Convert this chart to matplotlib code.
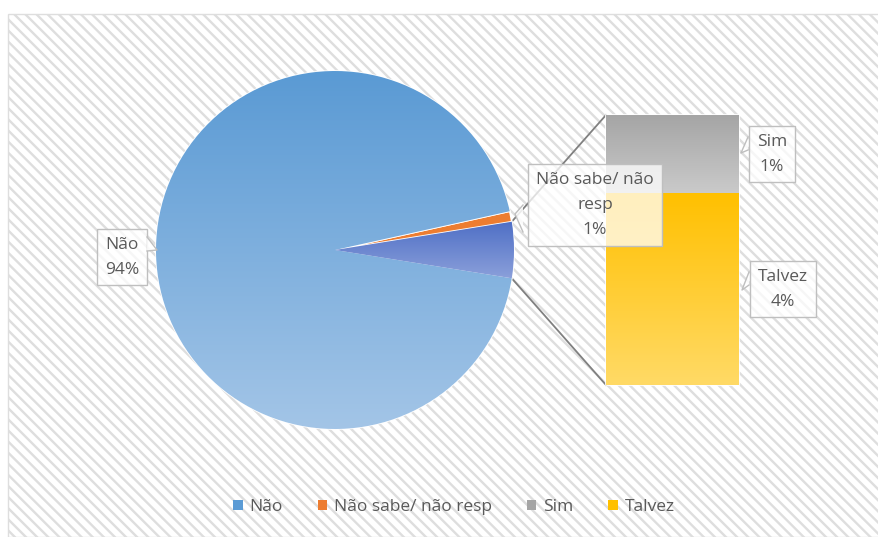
import numpy as np
import matplotlib.pyplot as plt
from matplotlib.patches import Rectangle, Patch
from matplotlib.colors import LinearSegmentedColormap

plt.rcParams['font.family'] = ['Open Sans', 'DejaVu Sans']
plt.rcParams['hatch.linewidth'] = 1.7

# data (percent)
categories = ['Não', 'Não sabe/ não resp', 'Sim', 'Talvez']
values = [94.0, 0.95, 1.45, 3.6]
pct_labels = ['94%', '1%', '1%', '4%']
colors = ['#5B9BD5', '#ED7D31', '#A5A5A5', '#FFC000']

nao, naosabe, sim, talvez = values
other = sim + talvez

fig = plt.figure(figsize=(8.79, 5.37), dpi=100)
ax = fig.add_axes([0, 0, 1, 1])
H = 537

# chart area background with diagonal hatch
bg = Rectangle((8, 0), 871, 523, facecolor='white', edgecolor='#dedede',
               hatch='\\\\\\', linewidth=1, zorder=0)
ax.add_patch(bg)

cx, cy, r = 335, 287, 179
half = other * 3.6 / 2
wedges, _ = ax.pie([other, naosabe, nao], colors=['#6F8AD0', '#ED7D31', '#5B9BD5'],
                   startangle=-half, counterclock=True, center=(cx, cy), radius=r,
                   wedgeprops=dict(edgecolor='white', linewidth=1.2, zorder=2))


def grad_fill(patch, extent, c_top, c_bot):
    cmap = LinearSegmentedColormap.from_list('g', [c_top, c_bot])
    img = np.linspace(0, 1, 256).reshape(-1, 1)
    im = ax.imshow(img, extent=extent, cmap=cmap, origin='upper', aspect='auto',
                   zorder=patch.get_zorder() + 0.1)
    im.set_clip_path(patch)


pie_ext = [cx - r, cx + r, cy - r, cy + r]
grad_fill(wedges[2], pie_ext, '#5A9AD4', '#A3C5E7')
grad_fill(wedges[0], [cx, cx + r, cy - r * 0.2, cy + r * 0.2], '#4769C3', '#93A6DD')

# bar of pie
bar_x, bar_w, bar_bottom, bar_h = 672.5, 133, 152, 270
scale = bar_h / other
bars_t = ax.bar(bar_x, talvez * scale, bottom=bar_bottom, width=bar_w,
                color=colors[3], edgecolor='white', linewidth=1.2, zorder=2)
bars_s = ax.bar(bar_x, sim * scale, bottom=bar_bottom + talvez * scale, width=bar_w,
                color=colors[2], edgecolor='white', linewidth=1.2, zorder=2)
for b, ct, cb in [(bars_t[0], '#FFC000', '#FFDA66'), (bars_s[0], '#A5A5A5', '#CACACA')]:
    x0, y0 = b.get_x(), b.get_y()
    grad_fill(b, [x0, x0 + b.get_width(), y0, y0 + b.get_height()], ct, cb)

# connector lines
a = np.radians(half)
x_left = bar_x - bar_w / 2
ax.plot([cx + r * np.cos(a), x_left], [cy + r * np.sin(a), bar_bottom + bar_h],
        color='#808080', lw=1.3, zorder=1.5)
ax.plot([cx + r * np.cos(-a), x_left], [cy + r * np.sin(-a), bar_bottom],
        color='#808080', lw=1.3, zorder=1.5)

# data labels
box = dict(boxstyle='square,pad=0.45', fc=(1, 1, 1, 0.75), ec='#bfbfbf', lw=1)
tkw = dict(ha='center', va='center', fontsize=12.5, color='#595959',
           linespacing=1.75, bbox=box, zorder=5)
ax.text(122, 280, f'{categories[0]}\n{pct_labels[0]}', **tkw)
ax.text(595, 332, f'Não sabe/ não\nresp\n{pct_labels[1]}', **tkw)
ax.text(772, 383, f'{categories[2]}\n{pct_labels[2]}', **tkw)
ax.text(783, 248, f'{categories[3]}\n{pct_labels[3]}', **tkw)


# callout notches (pixel coords: base point 1, tip, base point 2)
def notch(p1, tip, p2):
    xs = [p1[0], tip[0], p2[0]]
    ys = [H - p1[1], H - tip[1], H - p2[1]]
    ax.fill(xs, ys, color='white', alpha=0.85, zorder=5.5, lw=0)
    ax.plot(xs, ys, color='#bfbfbf', lw=1, zorder=5.6)


notch((147, 237), (157, 250), (147, 251))
notch((748, 137), (741, 153), (748, 150))
notch((749, 272), (742, 290), (749, 285))
notch((523, 205), (515, 214), (523, 232))

# legend
handles = [Patch(facecolor=c, edgecolor='none') for c in colors]
ax.legend(handles, categories, loc='center', bbox_to_anchor=(454 / 879, 30 / 537),
          ncol=4, frameon=False, handlelength=0.55, handleheight=0.55,
          columnspacing=2.0, handletextpad=0.4, fontsize=12.5, labelcolor='#595959')

ax.set_xlim(0, 879)
ax.set_ylim(0, 537)
ax.set_aspect('equal')
ax.axis('off')

fig.savefig('out.png', dpi=100)
